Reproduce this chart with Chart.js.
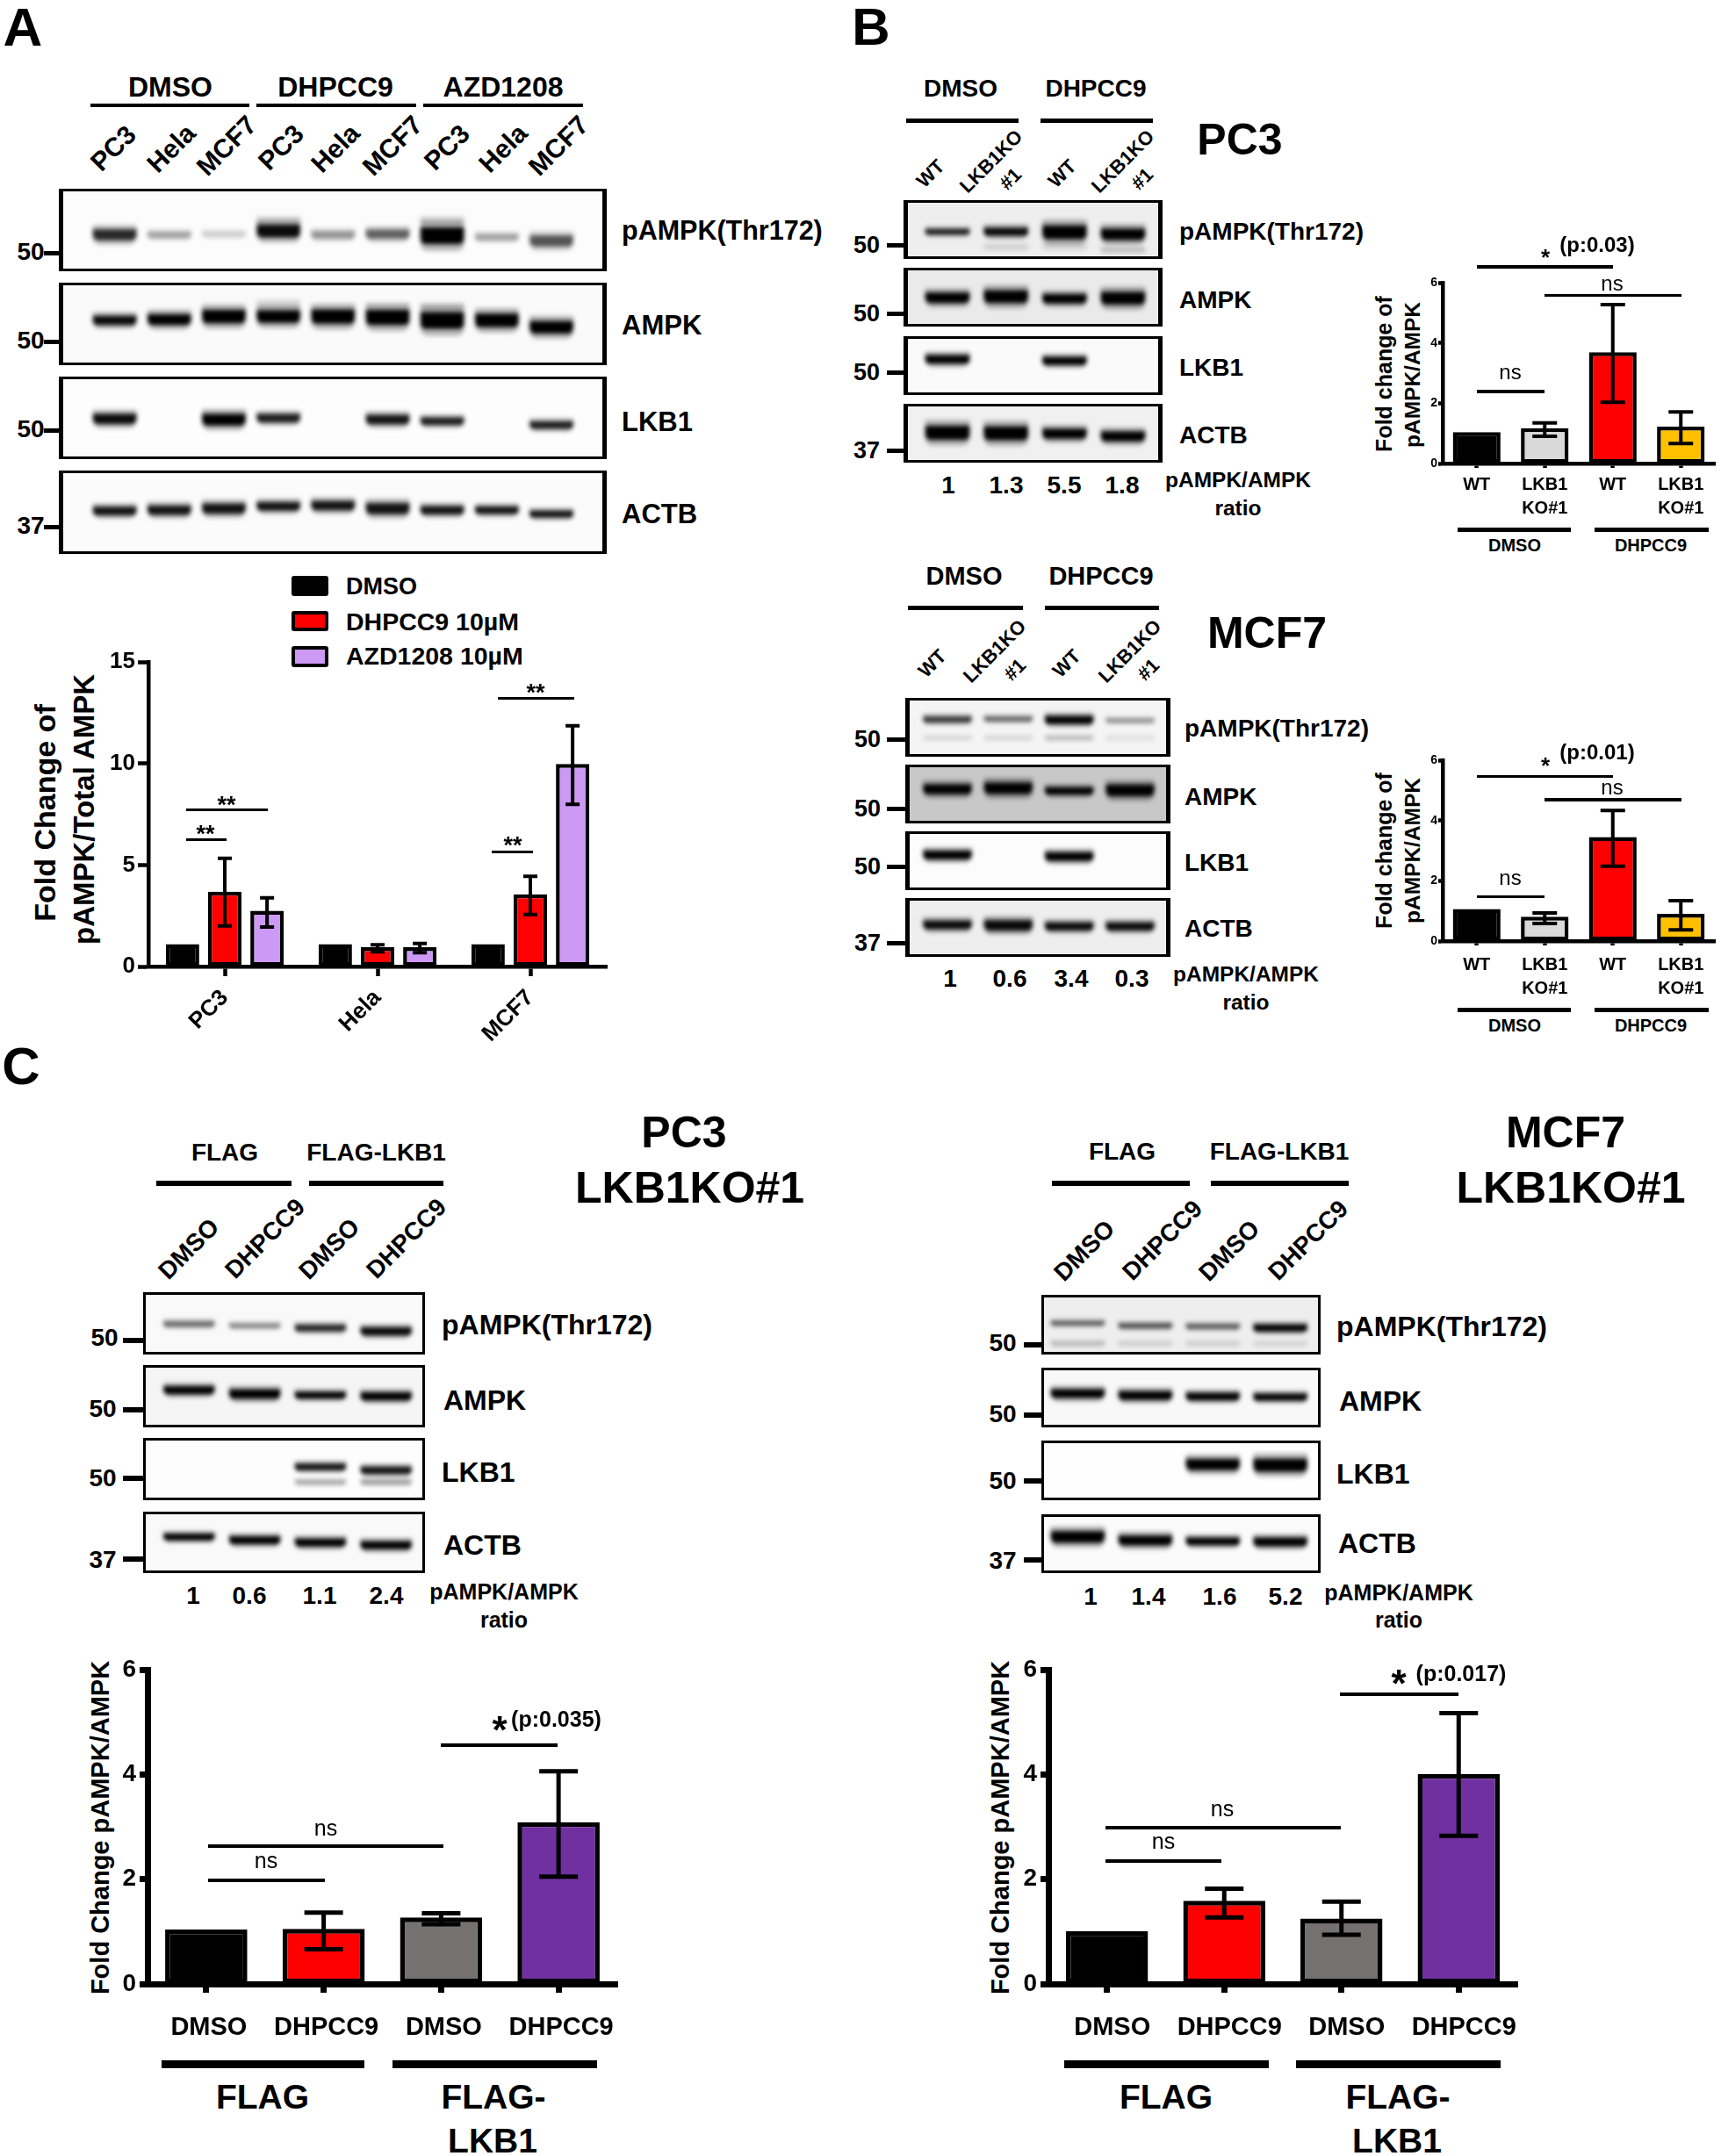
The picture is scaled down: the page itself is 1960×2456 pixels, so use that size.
<!DOCTYPE html>
<html>
<head>
<meta charset="utf-8">
<title>pAMPK figure</title>
<script src="https://cdn.jsdelivr.net/npm/chart.js@4"></script>
<style>
html, body { margin: 0; background: #fff; }
#page { position: relative; width: 1960px; height: 2456px; overflow: hidden; color: #000;
        font-family: 'Liberation Sans', Arial, sans-serif; font-weight: bold; }
.t { position: absolute; white-space: nowrap; line-height: 1; }
.r { position: absolute; background: #000; }
.strip { position: absolute; box-sizing: border-box; border-style: solid; border-color: #000; overflow: hidden; }
.strip canvas { position: absolute; left: 0; top: 0; filter: blur(2.5px); }
.plot { position: absolute; }
</style>
</head>
<body>
<div id="page"></div>
<script>
// ---- bar chart data ----
const catA = ['PC3', 'Hela', 'MCF7'];
const aDmso = [1.1, 1.1, 1.1];
const aDhpcc = [3.69, 0.95, 3.56];
const aDhpccHi = [5.33, 1.07, 4.44];
const aDhpccLo = [2.0, 0.72, 2.56];
const aAzd = [2.75, 0.95, 9.97];
const aAzdHi = [3.38, 1.13, 11.86];
const aAzdLo = [1.95, 0.68, 7.99];

const catB = ['WT', ['LKB1', 'KO#1'], 'WT', ['LKB1', 'KO#1']];
const bPc3 = [1.04, 1.17, 3.69, 1.22];
const bPc3Hi = [null, 1.35, 5.27, 1.71];
const bPc3Lo = [null, 0.9, 2.03, 0.66];
const bMcf7 = [1.06, 0.81, 3.45, 0.9];
const bMcf7Hi = [null, 0.93, 4.33, 1.34];
const bMcf7Lo = [null, 0.58, 2.48, 0.37];

const catC = ['DMSO', 'DHPCC9', 'DMSO', 'DHPCC9'];
const cPc3 = [1.04, 1.05, 1.27, 3.09];
const cPc3Hi = [null, 1.36, 1.35, 4.06];
const cPc3Lo = [null, 0.66, 1.14, 2.05];
const cMcf7 = [1.01, 1.59, 1.25, 4.01];
const cMcf7Hi = [null, 1.82, 1.57, 5.17];
const cMcf7Lo = [null, 1.27, 0.94, 2.83];

const ticksA = [0, 5, 10, 15];
const ticksSix = [0, 2, 4, 6];

// ---- text columns ----
const lanesA = ['PC3', 'Hela', 'MCF7', 'PC3', 'Hela', 'MCF7', 'PC3', 'Hela', 'MCF7'];
const lanesC = ['DMSO', 'DHPCC9', 'DMSO', 'DHPCC9'];
const ratioBPc3 = ['1', '1.3', '5.5', '1.8'];
const ratioBMcf7 = ['1', '0.6', '3.4', '0.3'];
const ratioCPc3 = ['1', '0.6', '1.1', '2.4'];
const ratioCMcf7 = ['1', '1.4', '1.6', '5.2'];
const proteins = ['pAMPK(Thr172)', 'AMPK', 'LKB1', 'ACTB'];

// ---- blot bands: ink (0-1), migration % of the strip, thickness % ----
const aPampkInk = [0.8, 0.3, 0.15, 0.95, 0.35, 0.55, 1, 0.3, 0.6];
const aPampkPos = [57, 57, 56, 52, 57, 56, 58, 60, 65];
const aPampkThick = [13, 8, 7, 15, 9, 11, 20, 8, 13];
const aPampkFaint = [0, 0, 0, 0.14, 0, 0, 0.14, 0, 0];
const aPampkFaintPos = [null, null, null, 38, null, null, 38, null, null];
const aAmpkInk = [0.95, 1, 1, 1, 1, 1, 1, 1, 1];
const aAmpkPos = [46, 45, 41, 41, 41, 42, 46, 46, 55];
const aAmpkThick = [11, 13, 16, 15, 17, 18, 20, 16, 15];
const aAmpkFaint = [0, 0, 0, 0.12, 0, 0.06, 0.12, 0, 0];
const aAmpkFaintPos = [null, null, null, 24, null, 27, 28, null, null];
const aLkb1Ink = [0.95, 0, 1, 0.85, 0, 0.9, 0.85, 0, 0.85];
const aLkb1Pos = [52, null, 53, 51, null, 53, 55, null, 60];
const aLkb1Thick = [12, 0, 14, 10, 0, 11, 9, 0, 9];
const aActbInk = [0.9, 0.9, 0.9, 0.9, 0.9, 0.9, 0.9, 0.9, 0.9];
const aActbPos = [49, 48, 46, 43, 42, 46, 48, 48, 53];
const aActbThick = [10, 11, 12, 10, 11, 13, 10, 9, 8];

const bpPampkInk = [0.85, 0.95, 1, 1];
const bpPampkPos = [55, 55, 56, 60];
const bpPampkThick = [10, 14, 24, 20];
const bpPampkFaint = [0, 0.12, 0.1, 0.2];
const bpPampkFaintPos = [null, 84, 84, 90];
const bpAmpkInk = [1, 1, 1, 1];
const bpAmpkPos = [52, 50, 54, 53];
const bpAmpkThick = [18, 22, 16, 22];
const bpLkb1Ink = [1, 0, 1, 0];
const bpLkb1Pos = [39, null, 42, null];
const bpLkb1Thick = [15, 0, 14, 0];
const bpActbInk = [1, 1, 1, 1];
const bpActbPos = [50, 51, 52, 57];
const bpActbThick = [24, 24, 17, 17];

const bmPampkInk = [0.7, 0.5, 1, 0.35];
const bmPampkPos = [36, 35, 37, 38];
const bmPampkThick = [11, 9, 14, 8];
const bmPampkFaint = [0.1, 0.1, 0.2, 0.07];
const bmPampkFaintPos = [71, 71, 71, 71];
const bmAmpkInk = [1, 1, 1, 1];
const bmAmpkPos = [42, 40, 45, 44];
const bmAmpkThick = [17, 20, 13, 20];
const bmLkb1Ink = [1, 0, 1, 0];
const bmLkb1Pos = [40, null, 43, null];
const bmLkb1Thick = [15, 0, 15, 0];
const bmActbInk = [0.95, 0.95, 0.95, 0.95];
const bmActbPos = [46, 47, 49, 49];
const bmActbThick = [15, 18, 14, 14];

const cpPampkInk = [0.5, 0.4, 0.8, 0.95];
const cpPampkPos = [52, 55, 59, 65];
const cpPampkThick = [9, 8, 11, 13];
const cpAmpkInk = [1, 1, 1, 1];
const cpAmpkPos = [40, 47, 49, 51];
const cpAmpkThick = [13, 15, 11, 13];
const cpLkb1Ink = [0, 0, 0.9, 0.9];
const cpLkb1Pos = [null, null, 47, 53];
const cpLkb1Thick = [0, 0, 11, 12];
const cpLkb1Faint = [0, 0, 0.3, 0.35];
const cpLkb1FaintPos = [null, null, 74, 74];
const cpActbInk = [1, 1, 1, 1];
const cpActbPos = [41, 47, 51, 56];
const cpActbThick = [11, 13, 13, 13];

const cmPampkInk = [0.55, 0.6, 0.55, 1];
const cmPampkPos = [48, 53, 54, 57];
const cmPampkThick = [8, 9, 9, 12];
const cmPampkFaint = [0.2, 0.12, 0.12, 0.1];
const cmPampkFaintPos = [86, 86, 86, 86];
const cmAmpkInk = [1, 1, 1, 1];
const cmAmpkPos = [43.5, 47, 49, 50];
const cmAmpkThick = [15, 15, 13, 12];
const cmLkb1Ink = [0, 0, 1, 1];
const cmLkb1Pos = [null, null, 40, 41];
const cmLkb1Thick = [0, 0, 19, 22];
const cmActbInk = [1, 1, 1, 1];
const cmActbPos = [38, 44.7, 46.5, 47.6];
const cmActbThick = [20, 17, 13, 15];

// ---- helpers ----
const page = document.getElementById('page');
const FONT = "'Liberation Sans', Arial, sans-serif";
let frameX = 5, frameY = 3.5;

function lab(text, x, y, size, opt) {
    opt = opt || {};
    const el = document.createElement('div');
    el.className = 't';
    el.textContent = text;
    el.style.left = x + 'px';
    el.style.top = y + 'px';
    el.style.fontSize = size + 'px';
    if (opt.weight) el.style.fontWeight = opt.weight;
    const tx = opt.left ? '0' : '-50%';
    el.style.transform = 'translate(' + tx + ',-50%)' + (opt.rot ? ' rotate(' + opt.rot + 'deg)' : '');
    page.appendChild(el);
}

function rule(x1, x2, y, th) {
    const el = document.createElement('div');
    el.className = 'r';
    el.style.cssText = 'left:' + x1 + 'px;top:' + (y - th / 2) + 'px;width:' + (x2 - x1) + 'px;height:' + th + 'px';
    page.appendChild(el);
}

function star(text, x, y, size) {
    lab(text, x, y + size * 0.2, size);
}

// lanesX: first lane centre, second lane centre, last lane centre
function strip(box, lanesX, bw, bg, ink, pos, thick, faint, faintPos) {
    const div = document.createElement('div');
    div.className = 'strip';
    div.style.cssText = 'left:' + box[0] + 'px;top:' + box[1] + 'px;width:' + (box[2] - box[0]) + 'px;height:' + (box[3] - box[1]) + 'px;background:' + bg +
        ';border-width:' + frameY + 'px ' + frameX + 'px';
    page.appendChild(div);
    const cv = document.createElement('canvas');
    const w = box[2] - box[0] - frameX * 2, h = box[3] - box[1] - frameY * 2;
    cv.width = w; cv.height = h;
    div.appendChild(cv);
    const step = lanesX[1] - lanesX[0];
    const padL = lanesX[0] - box[0] - frameX - step / 2;
    const padR = box[2] - frameX - lanesX[2] - step / 2;
    const span = (c, t) => (c === null ? null : [c - t / 2, c + t / 2]);
    const labels = ink.map((_, i) => i + 1);
    const datasets = [
        { data: pos.map((c, i) => span(c, thick[i] * 1.1)), backgroundColor: ink.map(v => 'rgba(0,0,0,' + v + ')'), grouped: false, borderRadius: 6 },
        { data: pos.map((c, i) => span(c, thick[i] * 2)), backgroundColor: ink.map(v => 'rgba(0,0,0,' + (v * 0.28) + ')'), grouped: false, borderRadius: 8 }
    ];
    if (faint) {
        datasets.push({ data: faintPos.map(c => span(c, 11)), backgroundColor: faint.map(v => 'rgba(0,0,0,' + v + ')'), grouped: false, borderRadius: 6 });
    }
    new Chart(cv, {
        type: 'bar',
        data: { labels: labels, datasets: datasets },
        options: {
            responsive: false, animation: false, devicePixelRatio: 1, events: [],
            layout: { padding: { left: padL, right: padR } },
            categoryPercentage: 1, barPercentage: bw,
            plugins: { legend: { display: false }, tooltip: { enabled: false } },
            scales: { x: { display: false }, y: { display: false, min: 0, max: 100, reverse: true } }
        }
    });
}

const errorBars = {
    id: 'errorBars',
    afterDatasetsDraw(chart) {
        const ctx = chart.ctx, y = chart.scales.y, opt = chart.options.plugins.errorBars;
        chart.data.datasets.forEach((ds, k) => {
            chart.getDatasetMeta(k).data.forEach((bar, i) => {
                if (ds.errHi[i] === null) return;
                const top = y.getPixelForValue(ds.errHi[i]), bot = y.getPixelForValue(ds.errLo[i]);
                ctx.save();
                ctx.strokeStyle = '#000';
                ctx.lineWidth = opt.width;
                ctx.beginPath();
                ctx.moveTo(bar.x, top); ctx.lineTo(bar.x, bot);
                ctx.moveTo(bar.x - opt.cap, top); ctx.lineTo(bar.x + opt.cap, top);
                ctx.moveTo(bar.x - opt.cap, bot); ctx.lineTo(bar.x + opt.cap, bot);
                ctx.stroke();
                ctx.restore();
            });
        });
    }
};

function barChart(o) {
    const leftPad = o.leftPad, topPad = 14, rightPad = 4, bottomPad = o.bottomPad;
    const cv = document.createElement('canvas');
    cv.className = 'plot';
    const W = o.r - o.l + leftPad + rightPad, H = o.b - o.t + topPad + bottomPad;
    cv.width = W; cv.height = H;
    cv.style.left = (o.l - leftPad) + 'px';
    cv.style.top = (o.t - topPad) + 'px';
    page.appendChild(cv);
    new Chart(cv, {
        type: 'bar',
        data: { labels: o.labels, datasets: o.datasets },
        plugins: [errorBars],
        options: {
            responsive: false, animation: false, devicePixelRatio: 1, events: [],
            layout: { padding: { top: topPad, right: rightPad } },
            categoryPercentage: o.catPct, barPercentage: o.barPct,
            plugins: { legend: { display: false }, tooltip: { enabled: false }, errorBars: { width: o.errW, cap: o.cap } },
            scales: {
                x: {
                    afterFit(s) { s.height = bottomPad; s.paddingLeft = 0; s.paddingRight = 0; },
                    border: { display: true, color: '#000', width: o.axisW },
                    grid: { display: true, offset: false, drawOnChartArea: false, drawTicks: true, tickLength: o.tickX, tickWidth: o.tickW, tickColor: '#000' },
                    ticks: {
                        autoSkip: false, color: '#000', padding: o.xPad, minRotation: o.xRot, maxRotation: o.xRot, labelOffset: o.xOffset || 0,
                        font: { family: FONT, weight: 'bold', size: o.xFont, lineHeight: 1.35 }
                    }
                },
                y: {
                    min: 0, max: o.yMax,
                    afterFit(s) { s.width = leftPad; s.paddingTop = 0; s.paddingBottom = 0; },
                    afterBuildTicks(s) { s.ticks = o.yTicks.map(v => ({ value: v })); },
                    border: { display: true, color: '#000', width: o.axisW },
                    grid: { display: true, drawOnChartArea: false, drawTicks: true, tickLength: o.tickY, tickWidth: o.tickW, tickColor: '#000' },
                    ticks: { color: '#000', padding: o.yPad, font: { family: FONT, weight: 'bold', size: o.yFont } }
                }
            }
        }
    });
}

function single(values, hi, lo, colors, bw) {
    return [{
        data: values, errHi: hi, errLo: lo, backgroundColor: colors,
        borderColor: '#000', borderWidth: bw, borderSkipped: false
    }];
}

function legendKey(x1, y1, x2, y2, fill) {
    const el = document.createElement('div');
    el.style.cssText = 'position:absolute;box-sizing:border-box;border:4px solid #000;border-radius:3px;left:' + x1 + 'px;top:' + y1 + 'px;width:' + (x2 - x1) + 'px;height:' + (y2 - y1) + 'px;background:' + fill;
    page.appendChild(el);
}

// ---- panel letters ----
lab('A', 26, 31, 62);
lab('B', 992, 31, 60);
lab('C', 24, 1215, 60);

// ---- panel A blot ----
lab('DMSO', 194, 99, 32); lab('DHPCC9', 382, 99, 32); lab('AZD1208', 573, 99, 32);
rule(103, 284, 120, 4); rule(292, 474, 120, 4); rule(482, 664, 120, 4);
[[129, 169], [195, 169], [258, 166], [320, 168], [382, 169], [447, 166], [509, 168], [573, 169], [636, 166]].forEach((p, i) => lab(lanesA[i], p[0], p[1], 30, { rot: -45 }));
const lanesBlotA = [130.6, 192.8, 628];
strip([67, 215, 691, 309], lanesBlotA, 0.8, '#fcfcfc', aPampkInk, aPampkPos, aPampkThick, aPampkFaint, aPampkFaintPos);
strip([67, 322, 691, 416], lanesBlotA, 0.8, '#fafafa', aAmpkInk, aAmpkPos, aAmpkThick, aAmpkFaint, aAmpkFaintPos);
strip([67, 429, 691, 523], lanesBlotA, 0.8, '#fdfdfd', aLkb1Ink, aLkb1Pos, aLkb1Thick);
strip([67, 536, 691, 631], lanesBlotA, 0.8, '#fbfbfb', aActbInk, aActbPos, aActbThick);
[287, 388, 489, 599].forEach((y, i) => { lab(i === 3 ? '37' : '50', 35, y, 28); rule(50, 67, y + 1, 5); });
proteins.forEach((p, i) => lab(p, 708, [262, 370, 480, 585][i], i === 0 ? 30.5 : 31, { left: true }));

// ---- panel A chart ----
legendKey(332, 656, 374, 679, '#000');
legendKey(332, 696, 374, 719, '#ff0000');
legendKey(332, 736, 374, 760, '#cc99f5');
lab('DMSO', 394, 668, 27, { left: true });
lab('DHPCC9 10µM', 394, 708, 28.5, { left: true });
lab('AZD1208 10µM', 394, 747, 28.5, { left: true });
lab('Fold Change of', 51, 926, 34, { rot: -90 });
lab('pAMPK/Total AMPK', 95, 922, 33, { rot: -90 });
barChart({
    l: 169, r: 691, t: 753.5, b: 1101, leftPad: 60, bottomPad: 90,
    labels: catA, yMax: 15, yTicks: ticksA,
    catPct: 0.83, barPct: 0.79,
    datasets: [
        { data: aDmso, errHi: [null, null, null], errLo: [null, null, null], backgroundColor: '#000', borderColor: '#000', borderWidth: 4.5, borderSkipped: false },
        { data: aDhpcc, errHi: aDhpccHi, errLo: aDhpccLo, backgroundColor: '#ff0000', borderColor: '#000', borderWidth: 4.5, borderSkipped: false },
        { data: aAzd, errHi: aAzdHi, errLo: aAzdLo, backgroundColor: '#cc99f5', borderColor: '#000', borderWidth: 4.5, borderSkipped: false }
    ],
    errW: 4, cap: 8, axisW: 4.5, tickW: 4.5, tickX: 11, tickY: 12,
    xFont: 26, xRot: 45, xPad: 8, yFont: 26, yPad: 3
});
rule(212, 258, 956, 3); rule(212, 305, 922, 3); rule(567, 654, 795, 3); rule(560, 607, 970, 3);
star('**', 234, 945, 27); star('**', 258, 912, 27); star('**', 584, 958, 27); star('**', 610, 784, 27);

// ---- panel B, PC3 ----
lab('DMSO', 1094, 101, 28); lab('DHPCC9', 1248, 101, 28);
rule(1032, 1160, 137.5, 5); rule(1185, 1313, 137.5, 5);
lab('PC3', 1412, 159, 50);
[1060, 1210].forEach(x => lab('WT', x, 198, 22, { rot: -45 }));
[1129, 1279].forEach(x => lab('LKB1KO', x, 184, 22, { rot: -45 }));
[1151, 1301].forEach(x => lab('#1', x, 204, 22, { rot: -45 }));
const lanesBlotBp = [1079, 1145.6, 1279];
strip([1029, 228, 1324, 295], lanesBlotBp, 0.76, '#eeeeee', bpPampkInk, bpPampkPos, bpPampkThick, bpPampkFaint, bpPampkFaintPos);
strip([1029, 305, 1324, 372], lanesBlotBp, 0.76, '#eaeaea', bpAmpkInk, bpAmpkPos, bpAmpkThick);
strip([1029, 383, 1324, 450], lanesBlotBp, 0.76, '#fafafa', bpLkb1Ink, bpLkb1Pos, bpLkb1Thick);
strip([1029, 460, 1324, 527], lanesBlotBp, 0.76, '#f0f0f0', bpActbInk, bpActbPos, bpActbThick);
[279, 357, 424, 513].forEach((y, i) => { lab(i === 3 ? '37' : '50', 987, y, 27); rule(1010, 1029, y, 5); });
proteins.forEach((p, i) => lab(p, 1343, [264, 342, 419, 496][i], 28, { left: true }));
[1080, 1146, 1212, 1278].forEach((x, i) => lab(ratioBPc3[i], x, 553, 28));
lab('pAMPK/AMPK', 1410, 547, 24.5); lab('ratio', 1410, 579, 24.5);

lab('Fold change of', 1576, 426, 25, { rot: -90 });
lab('pAMPK/AMPK', 1609, 427, 24.5, { rot: -90 });
barChart({
    l: 1643, r: 1953, t: 322.3, b: 528.8, leftPad: 40, bottomPad: 62,
    labels: catB, yMax: 6, yTicks: ticksSix, catPct: 1, barPct: 0.7,
    datasets: single(bPc3, bPc3Hi, bPc3Lo, ['#000', '#d9d9d9', '#ff0000', '#ffc000'], 4.5),
    errW: 4, cap: 14, axisW: 4.5, tickW: 4.5, tickX: 5, tickY: 5,
    xFont: 20, xRot: 0, xPad: 6, yFont: 14, yPad: 1
});
rule(1682, 1837, 304, 3.5); rule(1759, 1915, 336.6, 3.5); rule(1682, 1759, 446, 3.5);
star('*', 1760, 288, 26); lab('(p:0.03)', 1819, 279, 24);
lab('ns', 1836, 323, 24, { weight: 'normal' }); lab('ns', 1720, 424, 24, { weight: 'normal' });
rule(1660, 1789, 603, 5); rule(1816, 1946, 603, 5);
lab('DMSO', 1725, 621, 20); lab('DHPCC9', 1880, 621, 20);

// ---- panel B, MCF7 ----
lab('DMSO', 1098, 656, 29); lab('DHPCC9', 1254, 656, 29);
rule(1034, 1165, 692, 5); rule(1190, 1320, 692, 5);
lab('MCF7', 1443, 721, 50);
[1062, 1215].forEach(x => lab('WT', x, 756, 22, { rot: -45 }));
[1133, 1287].forEach(x => lab('LKB1KO', x, 742, 22, { rot: -45 }));
[1156, 1308].forEach(x => lab('#1', x, 763, 22, { rot: -45 }));
const lanesBlotBm = [1079, 1148.3, 1287];
strip([1031, 795, 1333, 862], lanesBlotBm, 0.8, '#f4f4f4', bmPampkInk, bmPampkPos, bmPampkThick, bmPampkFaint, bmPampkFaintPos);
strip([1031, 871, 1333, 938], lanesBlotBm, 0.8, '#c8c8c8', bmAmpkInk, bmAmpkPos, bmAmpkThick);
strip([1031, 947, 1333, 1014], lanesBlotBm, 0.8, '#fcfcfc', bmLkb1Ink, bmLkb1Pos, bmLkb1Thick);
strip([1031, 1023, 1333, 1090], lanesBlotBm, 0.8, '#eeeeee', bmActbInk, bmActbPos, bmActbThick);
[842, 921, 987, 1074].forEach((y, i) => { lab(i === 3 ? '37' : '50', 988, y, 27); rule(1010, 1031, y, 5); });
proteins.forEach((p, i) => lab(p, 1349, [830, 908, 983, 1058][i], 28, { left: true }));
[1082, 1150, 1220, 1289].forEach((x, i) => lab(ratioBMcf7[i], x, 1115, 28));
lab('pAMPK/AMPK', 1419, 1110, 24.5); lab('ratio', 1419, 1142, 24.5);

lab('Fold change of', 1576, 969, 25, { rot: -90 });
lab('pAMPK/AMPK', 1609, 969, 24.5, { rot: -90 });
barChart({
    l: 1643, r: 1953, t: 866, b: 1072.6, leftPad: 40, bottomPad: 62,
    labels: catB, yMax: 6, yTicks: ticksSix, catPct: 1, barPct: 0.7,
    datasets: single(bMcf7, bMcf7Hi, bMcf7Lo, ['#000', '#d9d9d9', '#ff0000', '#ffc000'], 4.5),
    errW: 4, cap: 14, axisW: 4.5, tickW: 4.5, tickX: 5, tickY: 5,
    xFont: 20, xRot: 0, xPad: 9, yFont: 14, yPad: 1
});
rule(1682, 1837, 884.6, 3.5); rule(1759, 1915, 910.8, 3.5); rule(1682, 1759, 1021.7, 3.5);
star('*', 1760, 867, 26); lab('(p:0.01)', 1819, 857, 24);
lab('ns', 1836, 897, 24, { weight: 'normal' }); lab('ns', 1720, 1000, 24, { weight: 'normal' });
rule(1660, 1789, 1150, 5); rule(1816, 1946, 1150, 5);
lab('DMSO', 1725, 1168, 20); lab('DHPCC9', 1880, 1168, 20);

// ---- panel C, PC3 blot ----
frameX = 3.6; frameY = 3.2;
lab('FLAG', 256, 1313, 28); lab('FLAG-LKB1', 428.6, 1313, 28);
rule(178, 332, 1348, 6); rule(352, 505, 1348, 6);
[[215, 1423], [302, 1411], [375, 1423], [463, 1411]].forEach((p, i) => lab(lanesC[i], p[0], p[1], 28, { rot: -45 }));
lab('PC3', 779, 1290, 50); lab('LKB1KO#1', 785.6, 1353, 50);
const lanesBlotCp = [216, 291, 441];
strip([163, 1472, 484, 1543], lanesBlotCp, 0.78, '#f9f9f9', cpPampkInk, cpPampkPos, cpPampkThick);
strip([163, 1555, 484, 1626], lanesBlotCp, 0.78, '#f5f5f5', cpAmpkInk, cpAmpkPos, cpAmpkThick);
strip([163, 1638, 484, 1709], lanesBlotCp, 0.78, '#fdfdfd', cpLkb1Ink, cpLkb1Pos, cpLkb1Thick, cpLkb1Faint, cpLkb1FaintPos);
strip([163, 1722, 484, 1792], lanesBlotCp, 0.78, '#f9f9f9', cpActbInk, cpActbPos, cpActbThick);
[[119, 1524, 1527], [117, 1605, 1606], [117, 1684, 1684], [117, 1777, 1776]].forEach((p, i) => { lab(i === 3 ? '37' : '50', p[0], p[1], 28); rule(140, 163, p[2], 6); });
proteins.forEach((p, i) => lab(p, i % 2 ? 505 : 503, [1509, 1595, 1677, 1760][i], 32, { left: true }));
[220, 284, 364, 440].forEach((x, i) => lab(ratioCPc3[i], x, 1818, 28));
lab('pAMPK/AMPK', 574, 1813, 25); lab('ratio', 574, 1845, 25);

// ---- panel C, PC3 chart ----
lab('Fold Change pAMPK/AMPK', 113.5, 2082, 29, { rot: -90 });
barChart({
    l: 168, r: 703, t: 1901.8, b: 2260, leftPad: 50, bottomPad: 60,
    labels: catC, yMax: 6, yTicks: ticksSix, catPct: 1, barPct: 0.7,
    datasets: single(cPc3, cPc3Hi, cPc3Lo, ['#000', '#ff0000', '#767171', '#7030a0'], 5.5),
    errW: 5, cap: 22, axisW: 7, tickW: 7, tickX: 10, tickY: 9,
    xFont: 29, xRot: 0, xPad: 20, xOffset: 3, yFont: 28, yPad: 4
});
rule(237, 370, 2142, 4); rule(237, 505, 2103, 4); rule(502, 635, 1988, 4);
lab('ns', 303, 2119, 25, { weight: 'normal' }); lab('ns', 371, 2082, 25, { weight: 'normal' });
star('*', 569, 1962, 44); lab('(p:0.035)', 633.5, 1958, 25);
rule(184, 415, 2351, 9); rule(447, 680, 2351, 9);
lab('FLAG', 299, 2388, 39); lab('FLAG-', 562, 2388, 39); lab('LKB1', 561, 2438, 39);

// ---- panel C, MCF7 blot ----
lab('FLAG', 1278, 1312, 28); lab('FLAG-LKB1', 1457, 1312, 28);
rule(1198, 1355, 1348, 6); rule(1379, 1536, 1348, 6);
[[1235, 1425], [1324, 1413], [1400, 1425], [1490, 1413]].forEach((p, i) => lab(lanesC[i], p[0], p[1], 28, { rot: -45 }));
lab('MCF7', 1783, 1290, 50); lab('LKB1KO#1', 1789, 1353, 50);
const lanesBlotCm = [1225, 1303, 1459];
strip([1186, 1475, 1504, 1543], lanesBlotCm, 0.8, '#eeeeee', cmPampkInk, cmPampkPos, cmPampkThick, cmPampkFaint, cmPampkFaintPos);
strip([1186, 1558, 1504, 1626], lanesBlotCm, 0.8, '#f8f8f8', cmAmpkInk, cmAmpkPos, cmAmpkThick);
strip([1186, 1641, 1504, 1709], lanesBlotCm, 0.8, '#fefefe', cmLkb1Ink, cmLkb1Pos, cmLkb1Thick);
strip([1186, 1725, 1504, 1792], lanesBlotCm, 0.8, '#fbfbfb', cmActbInk, cmActbPos, cmActbThick);
[[1530, 1532], [1611, 1612], [1687, 1687], [1778, 1777]].forEach((p, i) => { lab(i === 3 ? '37' : '50', 1142, p[0], 28); rule(1166, 1186, p[1], 6); });
proteins.forEach((p, i) => lab(p, [1522, 1525, 1522, 1524][i], [1511, 1596, 1679, 1758][i], 32, { left: true }));
[1242, 1308, 1389, 1464].forEach((x, i) => lab(ratioCMcf7[i], x, 1819, 28));
lab('pAMPK/AMPK', 1593, 1814, 25); lab('ratio', 1593, 1845, 25);

// ---- panel C, MCF7 chart ----
lab('Fold Change pAMPK/AMPK', 1139, 2082, 29, { rot: -90 });
barChart({
    l: 1194.3, r: 1729, t: 1901.8, b: 2260, leftPad: 50, bottomPad: 60,
    labels: catC, yMax: 6, yTicks: ticksSix, catPct: 1, barPct: 0.7,
    datasets: single(cMcf7, cMcf7Hi, cMcf7Lo, ['#000', '#ff0000', '#767171', '#7030a0'], 5.5),
    errW: 5, cap: 22, axisW: 7, tickW: 7, tickX: 10, tickY: 9,
    xFont: 29, xRot: 0, xPad: 20, xOffset: 6, yFont: 28, yPad: 4
});
rule(1259, 1391, 2119.5, 4); rule(1259, 1527, 2081.5, 4); rule(1526, 1661, 1930, 4);
lab('ns', 1325, 2097, 25, { weight: 'normal' }); lab('ns', 1392, 2060, 25, { weight: 'normal' });
star('*', 1593, 1909, 44); lab('(p:0.017)', 1664, 1906, 25);
rule(1212, 1445, 2351, 9); rule(1476, 1709, 2351, 9);
lab('FLAG', 1328, 2388, 39); lab('FLAG-', 1592, 2388, 39); lab('LKB1', 1591, 2438, 39);
</script>
</body>
</html>
